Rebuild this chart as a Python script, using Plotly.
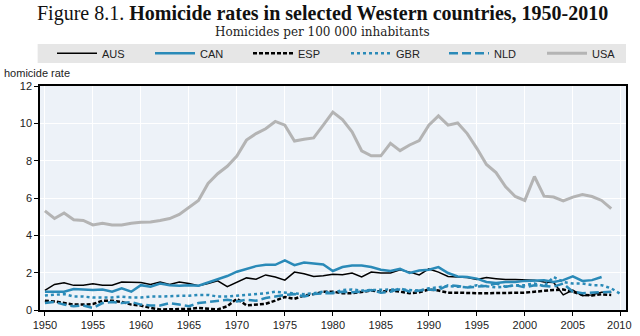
import plotly.graph_objects as go

years = list(range(1950, 2011))
xtick_vals = list(range(1950, 2011, 5))
xtick_text = [str(v) for v in xtick_vals[:-1]] + ["2010\u00a0"]
ytick_vals = [0, 2, 4, 6, 8, 10, 12]

aus = [1.05, 1.37, 1.46, 1.32, 1.32, 1.41, 1.33, 1.33, 1.5, 1.47,
       1.47, 1.37, 1.5, 1.37, 1.5, 1.42, 1.3, 1.42, 1.56, 1.25,
       1.5, 1.72, 1.65, 1.88, 1.77, 1.6, 2.03, 1.94, 1.8, 1.83,
       1.91, 1.89, 1.98, 1.77, 2.03, 1.98, 1.98, 2.16, 2.03, 1.88,
       2.2, 2.03, 1.8, 1.77, 1.74, 1.63, 1.74, 1.68, 1.63, 1.63,
       1.6, 1.6, 1.5, 1.47, 0.81, 1.07, 0.76, 0.81, 0.95, 0.95, None]
can = [0.98, 0.98, 0.98, 1.12, 1.1, 1.07, 1.1, 0.98, 1.16, 0.98,
       1.33, 1.25, 1.42, 1.33, 1.3, 1.33, 1.3, 1.47, 1.65, 1.82,
       2.05, 2.2, 2.35, 2.43, 2.42, 2.66, 2.4, 2.54, 2.47, 2.44,
       2.09, 2.3, 2.38, 2.38, 2.3, 2.16, 2.09, 2.2, 1.98, 2.12,
       2.16, 2.3, 1.98, 1.8, 1.77, 1.68, 1.5, 1.45, 1.5, 1.5,
       1.56, 1.56, 1.6, 1.5, 1.6, 1.8, 1.56, 1.6, 1.77, None, None]
esp = [0.5, 0.46, 0.37, 0.29, 0.29, 0.32, 0.5, 0.5, 0.43, 0.29,
       0.24, 0.11, 0.03, 0.03, 0.03, 0.06, 0.11, 0.08, 0.03, 0.2,
       0.6, 0.25, 0.3, 0.33, 0.5, 0.7, 0.6, 0.78, 0.85, 0.98,
       0.98, 0.9, 0.9, 0.98, 1.04, 0.98, 1.04, 0.98, 0.9, 0.95,
       1.1, 1.04, 0.93, 0.93, 0.9, 0.9, 0.9, 0.9, 0.9, 0.9,
       0.93, 0.98, 1.04, 1.07, 1.1, 0.98, 0.81, 0.78, 0.84, 0.81, None]
gbr = [0.78, 0.81, 0.85, 0.72, 0.72, 0.67, 0.67, 0.67, 0.72, 0.67,
       0.67, 0.72, 0.72, 0.76, 0.76, 0.76, 0.81, 0.81, 0.72, 0.72,
       0.76, 0.81, 0.85, 0.9, 0.98, 0.93, 0.9, 0.85, 0.9, 0.98,
       0.93, 1.07, 1.1, 1.04, 1.07, 1.1, 1.1, 1.1, 1.07, 1.04,
       1.16, 1.21, 1.28, 1.25, 1.21, 1.33, 1.28, 1.21, 1.25, 1.33,
       1.33, 1.42, 1.28, 1.77, 1.5, 1.42, 1.42, 1.33, 1.33, 1.16, 0.85]
nld = [0.37, 0.43, 0.29, 0.2, 0.24, 0.11, 0.37, 0.43, 0.37, 0.43,
       0.29, 0.24, 0.24, 0.37, 0.29, 0.2, 0.37, 0.43, 0.46, 0.55,
       0.46, 0.55, 0.5, 0.64, 0.72, 0.81, 0.85, 0.72, 0.85, 0.9,
       0.9, 0.98, 0.95, 0.98, 1.07, 0.93, 0.98, 1.16, 0.98, 1.04,
       1.1, 1.07, 1.33, 1.28, 1.21, 1.25, 1.28, 1.42, 1.25, 1.33,
       1.21, 1.33, 1.3, 1.25, 1.42, 0.98, 0.9, 0.93, 0.98, 0.98, None]
usa = [5.31, 4.9, 5.2, 4.83, 4.8, 4.56, 4.65, 4.56, 4.55, 4.65,
       4.7, 4.72, 4.8, 4.9, 5.12, 5.52, 5.87, 6.78, 7.3, 7.7,
       8.25, 9.1, 9.45, 9.71, 10.1, 9.9, 9.05, 9.15, 9.22, 9.9,
       10.6, 10.2, 9.54, 8.53, 8.26, 8.26, 8.93, 8.54, 8.84, 9.08,
       9.9, 10.4, 9.9, 10.02, 9.45, 8.66, 7.8, 7.36, 6.6, 6.08,
       5.87, 7.15, 6.1, 6.05, 5.84, 6.05, 6.19, 6.08, 5.87, 5.43, None]

teal = "#2a8ab8"
series = [
    ("AUS", aus, dict(color="black", width=1.5, dash="solid")),
    ("CAN", can, dict(color=teal, width=2.5, dash="solid")),
    ("ESP", esp, dict(color="black", width=2.5, dash="4px,2px")),
    ("GBR", gbr, dict(color=teal, width=2.5, dash="dot")),
    ("NLD", nld, dict(color=teal, width=2.5, dash="9px,4px")),
    ("USA", usa, dict(color="#b4b4b4", width=3, dash="solid")),
]

fig = go.Figure()
for name, vals, line in series:
    fig.add_trace(go.Scatter(x=years, y=vals, name=name, mode="lines",
                             line=line, connectgaps=False))

sans = "Liberation Sans, Arial, sans-serif"

fig.update_layout(
    width=640, height=336,
    margin=dict(l=40, r=5, t=86, b=21),
    paper_bgcolor="white",
    plot_bgcolor="#edf2f8",
    showlegend=True,
    legend=dict(orientation="h", x=0.027, xanchor="left", y=1.146, yref="paper",
                yanchor="middle", bgcolor="rgba(0,0,0,0)",
                font=dict(family=sans, size=11, color="#222"),
                entrywidth=43, entrywidthmode="pixels", itemwidth=40,
                traceorder="normal"),
    font=dict(family=sans, size=11, color="#222"),
)

fig.add_shape(type="rect", xref="paper", yref="paper", x0=-0.004, x1=1.0,
              y0=1.103, y1=1.188, fillcolor="#e6e6e6", line_width=0, layer="below")

fig.update_xaxes(range=[1949.49, 2010.54], tickmode="array",
                 tickvals=xtick_vals, ticktext=xtick_text,
                 ticklabeloverflow="allow",
                 ticks="outside", ticklen=4, tickcolor="black",
                 showline=True, linecolor="black", linewidth=1.5, mirror=True,
                 showgrid=True, gridcolor="white", gridwidth=1.2, zeroline=False,
                 tickfont=dict(family=sans, size=11, color="#222"))
fig.update_yaxes(range=[0, 12], tickmode="array", tickvals=ytick_vals,
                 ticks="outside", ticklen=4, tickcolor="black",
                 showline=True, linecolor="black", linewidth=1.5, mirror=True,
                 showgrid=True, gridcolor="white", gridwidth=1.2, zeroline=False,
                 tickfont=dict(family=sans, size=11, color="#222"))

fig.add_annotation(text="Figure 8.1. <b>Homicide rates in selected Western countries, 1950-2010</b>",
                   xref="paper", yref="paper", x=0.482, y=1.325,
                   showarrow=False, xanchor="center", yanchor="middle",
                   font=dict(family="Liberation Serif, serif", size=20, color="#111"))
fig.add_annotation(text="Homicides per 100 000 inhabitants",
                   xref="paper", yref="paper", x=0.482, y=1.240,
                   showarrow=False, xanchor="center", yanchor="middle",
                   font=dict(family="DejaVu Serif, serif", size=12, color="#222"))
fig.add_annotation(text="homicide rate", xref="paper", yref="paper",
                   x=-0.064, y=1.058, showarrow=False,
                   xanchor="left", yanchor="middle",
                   font=dict(family=sans, size=11, color="#222"))

fig.write_html("out.html")
